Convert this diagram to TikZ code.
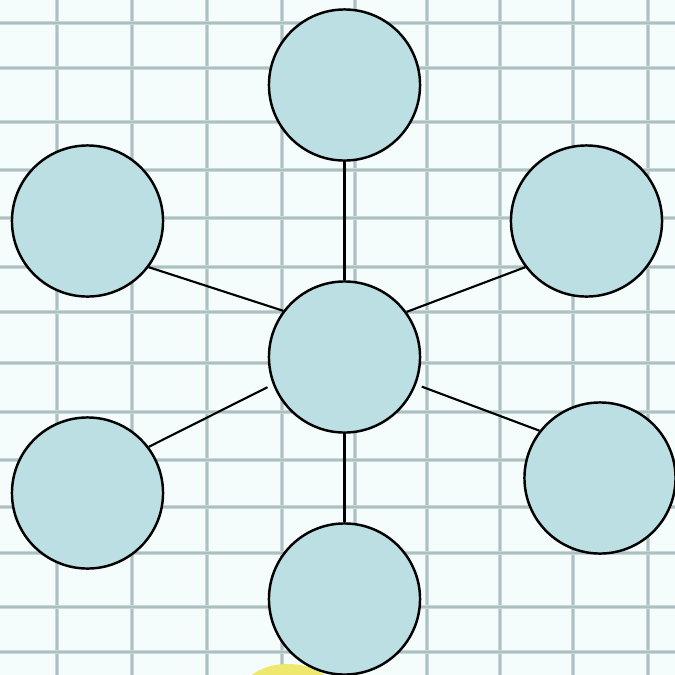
\documentclass[tikz,border=0pt]{standalone}
\usepackage{tikz}
\usetikzlibrary{positioning}

\definecolor{paper}{RGB}{245,252,252}
\definecolor{gridline}{RGB}{200,216,217}
\definecolor{gridcore}{RGB}{172,192,194}
\definecolor{bubble}{RGB}{187,223,226}
\definecolor{blob}{RGB}{238,232,110}

\begin{document}
\begin{tikzpicture}[
  x=0.01cm, y=-0.01cm,
  bubblenode/.style={circle, draw=black, line width=0.7pt, fill=bubble, minimum size=1.51cm, inner sep=0pt},
  spoke/.style={line width=0.6pt, black}
]
  %% Paper with grid
  \useasboundingbox (0,0) rectangle (675,675);
  \begin{scope}
    \clip (0,0) rectangle (675,675);
    \fill[paper] (0,0) rectangle (675,675);
    \foreach \gx in {57,132,207,282,355,427,500,573,648} {
      \draw[gridline, line width=1.4pt] (\gx,0) -- (\gx,675);
      \draw[gridcore, line width=0.5pt] (\gx,0) -- (\gx,675);
    }
    \foreach \gy in {23,68,122,170,218,267,312,363,412,460,507,553,607,652} {
      \draw[gridline, line width=1.4pt] (0,\gy) -- (675,\gy);
      \draw[gridcore, line width=0.5pt] (0,\gy) -- (675,\gy);
    }
    \fill[blob] (288,690) ellipse [x radius=44, y radius=26];
  \end{scope}

  %% Hub
  \node[bubblenode] (hub) at (344.5,357) {};

  %% Outer bubbles
  \node[bubblenode] (top) at (344.5,85) {};
  \node[bubblenode] (upl) at (87.5,221) {};
  \node[bubblenode] (upr) at (586.5,221) {};
  \node[bubblenode] (lol) at (87.5,493) {};
  \node[bubblenode] (lor) at (600,478) {};
  \node[bubblenode] (bot) at (344.5,599) {};

  %% Spokes
  \draw[spoke] (top) -- (hub);
  \draw[spoke] (hub) -- (bot);
  \draw[spoke] (upl.-37) -- (hub.143.6);
  \draw[spoke] (hub.36.4) -- (upr.217);
  \draw[spoke, shorten >=1.7pt] (lol.37) -- (hub.201.5);
  \draw[spoke, shorten <=1.7pt] (hub.-21.5) -- (lor.142.5);
\end{tikzpicture}
\end{document}
